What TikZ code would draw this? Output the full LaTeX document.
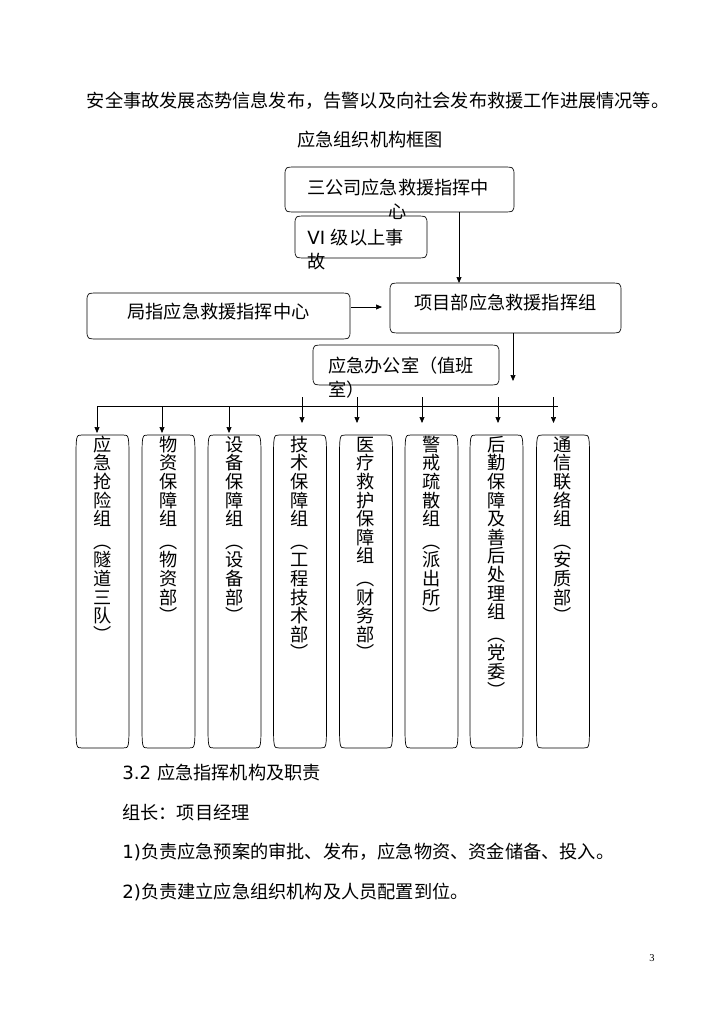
\documentclass[tikz,border=0pt]{standalone}
\usepackage{fontspec}
\setmainfont{Noto Sans CJK SC}
\newfontfamily\lat{DejaVu Sans}
\newfontfamily\pgfont{Liberation Serif}
\usetikzlibrary{arrows.meta,calc}

% vertical text, one character under the other
\newcommand\vcol[1]{\vtop{\vcolA#1\relax}}
\def\vcolA#1{\ifx#1\relax\else\vchar{#1}\expandafter\vcolA\fi}
\newcommand\vchar[1]{\ifx#1︵\vskip4pt\fi
  \hbox to 18pt{\hss\vrule height 15.9pt depth 2.1pt width 0pt\relax#1\hss}}

% outline with soft corners: node, corner width, corner height
\newcommand\bracebox[3]{%
  \draw ([yshift=-#3]#1.north west) .. controls (#1.north west) .. ([xshift=#2]#1.north west)
    -- ([xshift=-#2]#1.north east) .. controls (#1.north east) .. ([yshift=-#3]#1.north east)
    -- ([yshift=#3]#1.south east) .. controls (#1.south east) .. ([xshift=-#2]#1.south east)
    -- ([xshift=#2]#1.south west) .. controls (#1.south west) .. ([yshift=#3]#1.south west) -- cycle;}

\begin{document}
\begin{tikzpicture}[x=1pt,y=-1pt,line width=0.7pt,
  frame/.style={inner sep=0pt,outer sep=0pt},
  words/.style={inner sep=0pt,font=\fontsize{18.2}{24}\selectfont},
  colbox/.style={inner sep=0pt,outer sep=0pt,minimum width=53pt,minimum height=313pt},
  coltext/.style={inner sep=0pt,text width=18pt,anchor=north,font=\fontsize{18.2}{18.6}\selectfont},
  arr/.style={-{Triangle[length=6pt,width=5pt]}}]
  \useasboundingbox (0,0) rectangle (724,1024);

  \node[words] (lead) at (378,101) {安全事故发展态势信息发布，告警以及向社会发布救援工作进展情况等。};
  \node[words] (title) at (370,140) {应急组织机构框图};

  % command boxes
  \node[frame,minimum width=229pt,minimum height=45pt] (sgs) at (399.5,189.5) {};
  \node[frame,minimum width=132pt,minimum height=42pt] (vi) at (361,237) {};
  \node[frame,minimum width=263pt,minimum height=46pt] (jz) at (218.5,316) {};
  \node[frame,minimum width=231pt,minimum height=50pt] (xmb) at (505.5,308) {};
  \node[frame,minimum width=186pt,minimum height=40pt] (bgs) at (406,365) {};
  \foreach \bx in {sgs,vi,jz,xmb,bgs} {\bracebox{\bx}{12pt}{9pt}}

  \node[words,align=center,anchor=north] (sgs-t) at ($(sgs.north)+(-1.5,10)$) {\strut 三公司应急救援指挥中\\\strut 心};
  \node[words,align=left,anchor=north west] (vi-t) at ($(vi.north west)+(12,11)$) {\strut{\lat VI }级以上事\\\strut 故};
  \node[words] (jz-t) at ($(jz.center)+(0,-4)$) {局指应急救援指挥中心};
  \node[words] (xmb-t) at ($(xmb.center)+(0,-5)$) {项目部应急救援指挥组};
  \node[words,align=left,anchor=north west] (bgs-t) at ($(bgs.north west)+(15,10)$) {\strut 应急办公室（值班\\\strut 室）};

  \coordinate (sgsout) at ($(sgs.south)+(59.5,0)$);
  \draw[arr] (sgsout) -- (sgsout |- xmb.north);
  \draw[arr] ($(jz.east)+(1,-9)$) -- ($(jz.east -| xmb.west)+(-8,-9)$);
  \coordinate (drop) at (513,381);
  \draw[arr] (xmb.south -| drop) -- (drop);

  % working groups
  \foreach \i/\x/\lbl in {1/102.5/应急抢险组︵隧道三队︶,2/168.5/物资保障组︵物资部︶,
      3/234.5/设备保障组︵设备部︶,4/300/技术保障组︵工程技术部︶,5/366/医疗救护保障组︵财务部︶,
      6/431.5/警戒疏散组︵派出所︶,7/496.5/后勤保障及善后处理组︵党委︶,8/563/通信联络组︵安质部︶}{
    \node[colbox] (c\i) at (\x,591.5) {};
    \bracebox{c\i}{6pt}{28pt}
    \node[coltext] (c\i-t) at (c\i.north) {\expandafter\vcol\expandafter{\lbl}};
  }

  \coordinate (busL) at (97,406);
  \coordinate (busR) at (558,406);
  \draw (busL) -- (busR);
  \foreach \i/\dx in {1/-5.5,2/-6.5,3/-5.5}
    \draw[arr] ($(c\i.north |- busL)+(\dx,0)$) -- ($(c\i.north)+(\dx,-2)$);
  \foreach \i/\dx in {4/2,5/-9,6/-9.5,7/1.5,8/-9.5}
    \draw[arr] ($(c\i.north |- busL)+(\dx,-9)$) -- ($(c\i.north)+(\dx,-12)$);

  \node[words,anchor=west] (sec) at (122,773) {{\lat 3.2 }应急指挥机构及职责};
  \node[words,anchor=west] (head) at (122,812.5) {组长：项目经理};
  \node[words,anchor=west] (duty1) at (122,852) {{\lat 1)}负责应急预案的审批、发布，应急物资、资金储备、投入。};
  \node[words,anchor=west] (duty2) at (122,891.5) {{\lat 2)}负责建立应急组织机构及人员配置到位。};
  \node[inner sep=0pt,font=\pgfont\fontsize{10.5}{12}\selectfont] (pgno) at (652,958) {3};
\end{tikzpicture}
\end{document}
